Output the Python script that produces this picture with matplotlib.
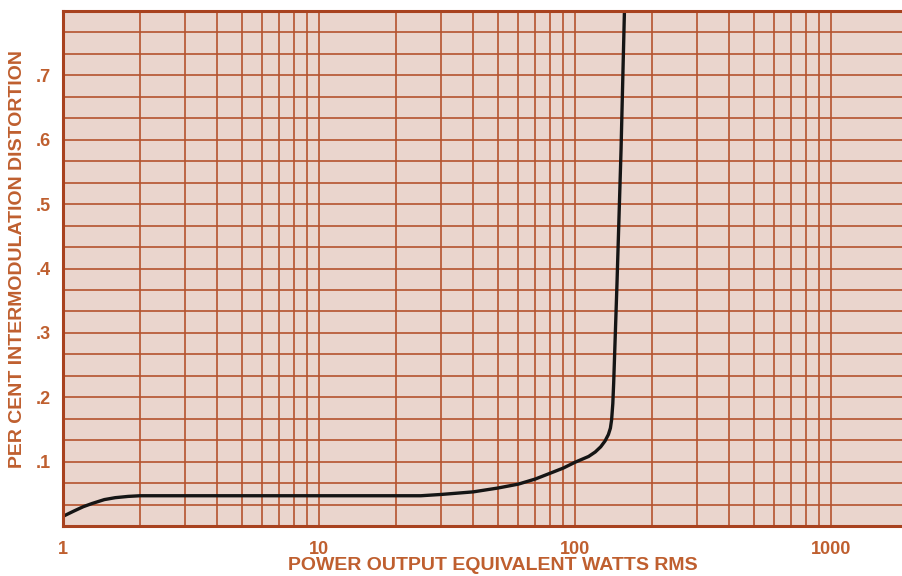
import numpy as np
from matplotlib import pyplot as plt
from matplotlib.ticker import LogLocator, FixedLocator, NullFormatter

plt.rcParams['font.family'] = ['Liberation Sans', 'DejaVu Sans']

# data
watts = [1, 1.1, 1.2, 1.3, 1.45, 1.6, 1.8, 2, 3, 5, 10, 20, 25, 30, 40, 50, 60,
         70, 80, 90, 100, 113, 120, 126, 131, 135, 137.5, 139, 140.5, 141.6,
         145.9, 151.3, 156]
distortion = [0.015, 0.023, 0.030, 0.035, 0.041, 0.044, 0.046, 0.047, 0.047,
              0.047, 0.047, 0.047, 0.047, 0.049, 0.053, 0.059, 0.065, 0.073,
              0.082, 0.090, 0.099, 0.108, 0.115, 0.123, 0.132, 0.142, 0.152,
              0.165, 0.190, 0.222, 0.377, 0.584, 0.80]
x_ticks = [1, 10, 100, 1000]
x_labels = ["1", "10", "100", "1000"]
y_ticks = [0.1, 0.2, 0.3, 0.4, 0.5, 0.6, 0.7]
y_labels = [".1", ".2", ".3", ".4", ".5", ".6", ".7"]

paper = "#ead5cd"
grid_c = "#b5532e"
spine_c = "#a8421f"
text_c = "#bf5f2f"

fig = plt.figure(figsize=(9.02, 5.76), dpi=100)
ax = fig.add_axes([63/902, 50/576, 839/902, 515/576])
ax.set_facecolor(paper)

ax.set_xscale("log")
ax.set_xlim(1, 10 ** (839 / 256))
ax.set_ylim(0, 0.8)

ax.xaxis.set_major_locator(FixedLocator(x_ticks))
ax.xaxis.set_minor_locator(LogLocator(base=10, subs=np.arange(2, 10)))
ax.xaxis.set_minor_formatter(NullFormatter())
ax.set_xticklabels(x_labels)
ax.yaxis.set_major_locator(FixedLocator(y_ticks))
ax.yaxis.set_minor_locator(FixedLocator(np.arange(1, 24) / 30))
ax.set_yticklabels(y_labels)

ax.grid(True, which="both", color=grid_c, linewidth=1.2)
ax.set_axisbelow(True)
ax.tick_params(which="both", length=0, colors=text_c, labelsize=13)
ax.tick_params(axis="x", pad=11)
ax.tick_params(axis="y", pad=9)
for lab in ax.get_xticklabels() + ax.get_yticklabels():
    lab.set_fontweight("bold")

for side in ["left", "top", "bottom"]:
    ax.spines[side].set_color(spine_c)
    ax.spines[side].set_linewidth(2.2)
ax.spines["right"].set_visible(False)

ax.plot(watts, distortion, color="#151515", linewidth=2.4,
        solid_capstyle="round", solid_joinstyle="round")

fig.text(493/902, 1 - 566/576, "POWER OUTPUT EQUIVALENT WATTS RMS", ha="center",
         va="center", color=text_c, fontsize=14, fontweight="bold")
fig.text(18/902, 1 - 259/576, "PER CENT INTERMODULATION DISTORTION", ha="center",
         va="center", rotation=90, color=text_c, fontsize=14, fontweight="bold")

fig.savefig("out.png", dpi=100, facecolor="white")
